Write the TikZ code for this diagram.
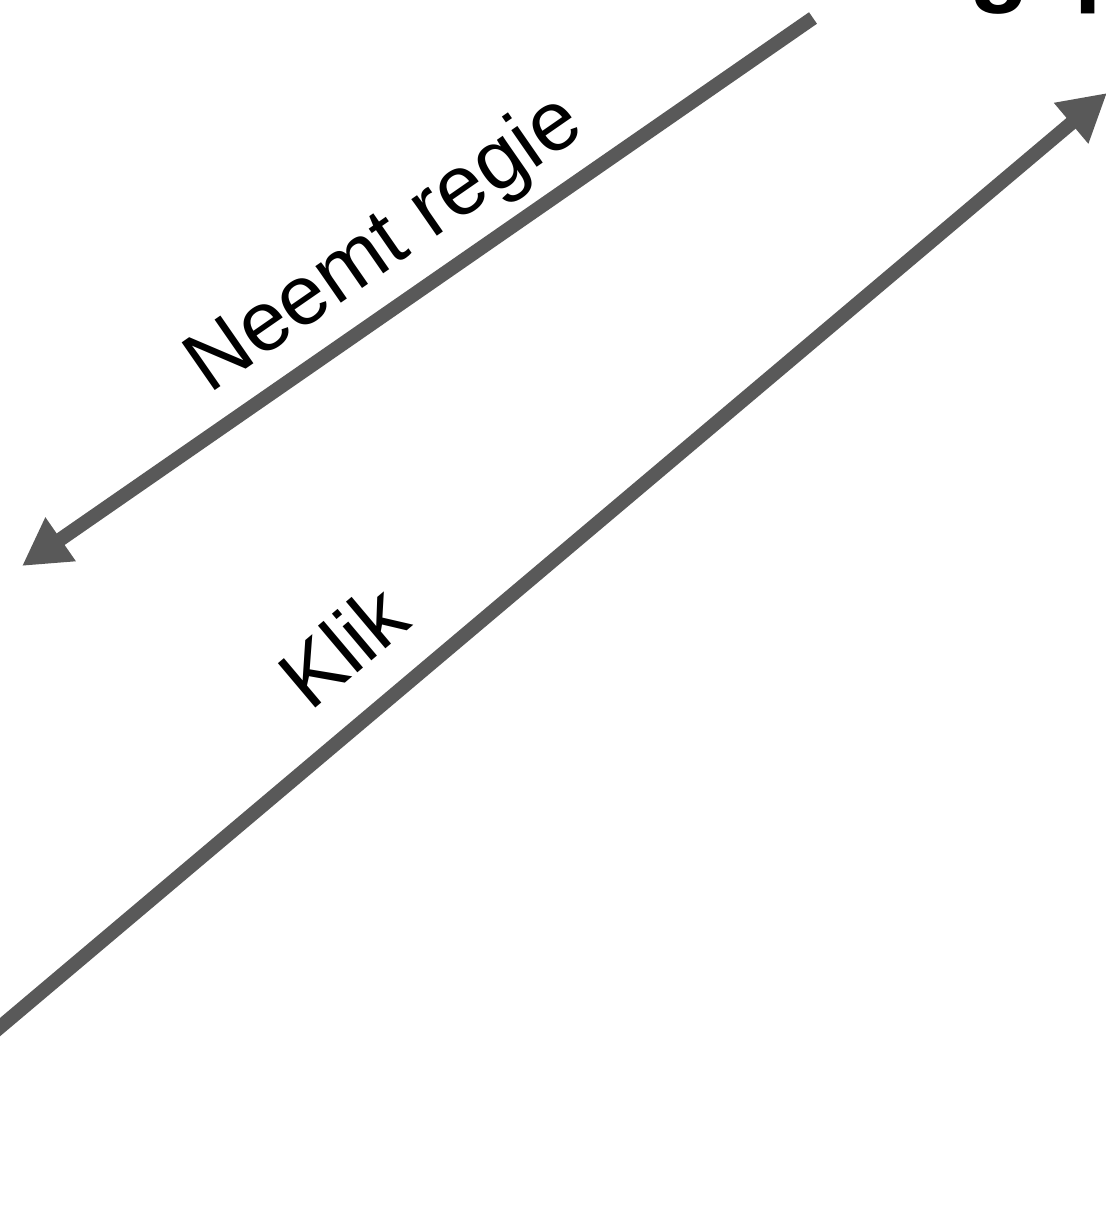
\documentclass[tikz,border=0pt]{standalone}
\usepackage{fontspec}
\setmainfont{Liberation Sans}
\usetikzlibrary{
  arrows.meta,
  positioning,
  calc
}
\definecolor{arrowcolor}{HTML}{595959}
\definecolor{textprimary}{HTML}{000000}
\tikzset{
  flow/.style={
    -{Triangle[length=0.47cm, width=0.5cm]},
    line width=0.14cm,
    draw=arrowcolor,
  },
  elabel/.style={
    font=\fontsize{24}{28}\selectfont,
    text=textprimary,
    inner sep=0pt,
    sloped,
  },
  cutlabel/.style={
    font=\fontsize{28}{32}\selectfont\bfseries,
    text=textprimary,
    inner sep=0pt,
    anchor=base,
  },
}

\begin{document}
\begin{tikzpicture}

\useasboundingbox (0,0) rectangle (11.06,12.29);
\clip (0,0) rectangle (11.06,12.29);

% === Cut-off heading at the top edge ===

\node[cutlabel] (headg) at (10.00,12.35) {g};
\node[cutlabel] (headp) at (11.05,12.35) {p};

% === End points ===

\coordinate (regiestart) at (8.13,12.11);
\coordinate (regieend)   at (0.22,6.63);
\coordinate (klikstart)  at (-0.20,1.85);
\coordinate (klikend)    at (11.07,11.36);

% === Arrows ===

\draw[flow] (regiestart) -- node[elabel, above=0.1cm, pos=0.5] {Neemt regie} (regieend);
\draw[flow] (klikstart) -- node[elabel, above=0.33cm, pos=0.362] {Klik} (klikend);

\end{tikzpicture}
\end{document}
